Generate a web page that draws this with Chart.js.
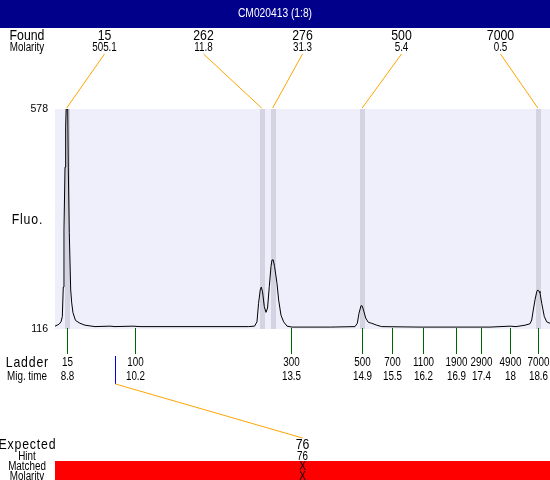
<!DOCTYPE html>
<html><head><meta charset="utf-8">
<script src="https://cdn.jsdelivr.net/npm/chart.js@4.4.1/dist/chart.umd.min.js"></script>
<style>html,body{margin:0;padding:0;background:#fff;overflow:hidden}canvas{display:block}</style>
</head><body>
<canvas id="c" width="550" height="480"></canvas>
<script>
const titleText = "CM020413 (1:8)";
const traceTimes = [8.557, 8.640, 8.682, 8.709, 8.729, 8.744, 8.765, 8.779, 8.790, 8.821, 8.833, 8.854, 8.883, 8.904, 8.931, 8.983, 9.076, 9.180, 9.388, 9.700, 9.804, 10.178, 10.323, 11.570, 12.573, 12.704, 12.754, 12.787, 12.822, 12.843, 12.870, 12.906, 12.941, 12.974, 13.010, 13.045, 13.066, 13.093, 13.120, 13.170, 13.204, 13.253, 13.308, 13.379, 13.482, 14.278, 14.791, 14.839, 14.874, 14.916, 14.943, 14.978, 15.013, 15.068, 15.138, 15.242, 15.346, 16.142, 16.973, 17.597, 18.013, 18.137, 18.324, 18.428, 18.463, 18.496, 18.531, 18.567, 18.588, 18.615, 18.635, 18.671, 18.725, 18.775, 18.843];
const traceFluo = [122, 126, 131, 142, 204, 324, 456, 540, 578, 578, 456, 318, 198, 171, 150, 134, 128, 124, 121, 122, 121, 122, 121, 121, 121, 122, 131, 170, 198, 204, 194, 163, 151, 160, 205, 247, 261, 261, 247, 212, 177, 145, 131, 122, 120, 120, 121, 128, 149, 165, 164, 152, 139, 130, 128, 124, 121, 120, 120, 120, 122, 121, 124, 127, 135, 156, 177, 194, 198, 195, 192, 170, 142, 131, 128];
const yTickValues = [116, 578];
const foundSizes = ["15", "262", "276", "500", "7000"];
const foundMolarity = ["505.1", "11.8", "31.3", "5.4", "0.5"];
const foundTimes = [8.80, 12.85, 13.08, 14.94, 18.59];
const ladderSizes = ["15", "100", "300", "500", "700", "1100", "1900", "2900", "4900", "7000"];
const ladderTimes = [8.80, 10.22, 13.47, 14.94, 15.55, 16.21, 16.90, 17.40, 18.02, 18.60];
const ladderTimeLabels = ["8.8", "10.2", "13.5", "14.9", "15.5", "16.2", "16.9", "17.4", "18", "18.6"];
const expectedSizes = ["76"];
const expectedHints = ["76"];
const expectedMatched = ["X"];
const expectedMolarity = ["X"];
const expectedTimes = [9.81];
const xMin = 8.557, xMax = 18.843;
const yMin = 116, yMax = 578;

const FONT = "'Liberation Sans', Arial, sans-serif";
const CONDENSE = 0.82;

function txt(ctx, s, x, y, size, color, spacing) {
  ctx.save();
  ctx.font = size + 'px ' + FONT;
  ctx.fillStyle = color || '#000';
  ctx.textAlign = 'center';
  ctx.textBaseline = 'middle';
  if (spacing) ctx.letterSpacing = spacing + 'px';
  ctx.translate(x, y);
  ctx.scale(CONDENSE, 1);
  ctx.fillText(s, spacing ? spacing / 2 : 0, 0);
  ctx.restore();
}
function line(ctx, x1, y1, x2, y2, color) {
  ctx.strokeStyle = color; ctx.lineWidth = 1;
  ctx.beginPath(); ctx.moveTo(x1, y1); ctx.lineTo(x2, y2); ctx.stroke();
}

const deco = {
  id: 'deco',
  beforeDraw(chart) {
    const {ctx, chartArea: a} = chart;
    ctx.save();
    ctx.fillStyle = '#fff'; ctx.fillRect(0, 0, chart.width, chart.height);
    ctx.fillStyle = '#00008B'; ctx.fillRect(0, 0, chart.width, 28);
    ctx.fillStyle = '#EFEFFC'; ctx.fillRect(a.left, a.top, a.right - a.left, a.bottom - a.top);
    ctx.restore();
  },
  beforeDatasetsDraw(chart) {
    const {ctx, chartArea: a, scales: {x}} = chart;
    ctx.save();
    ctx.fillStyle = '#D3D3E1';
    foundTimes.forEach(t => {
      const px = Math.round(x.getPixelForValue(t));
      ctx.fillRect(px - 2, a.top, 5, a.bottom - a.top);
    });
    ctx.restore();
  },
  afterDraw(chart) {
    const {ctx, chartArea: a, scales: {x}} = chart;
    const W = a.right - a.left;
    ctx.save();
    txt(ctx, titleText, chart.width / 2, 14, 12.5, '#fff');
    txt(ctx, 'Found', 27, 36, 15);
    txt(ctx, 'Molarity', 27, 48, 12);
    txt(ctx, 'Fluo.', 27, 220, 15, '#000', 1);
    txt(ctx, 'Ladder', 27, 363, 15, '#000', 1);
    txt(ctx, 'Mig. time', 27, 377, 12);
    txt(ctx, 'Expected', 27, 445, 15, '#000', 1);
    txt(ctx, 'Hint', 27, 456.5, 12);
    foundSizes.forEach((s, i) => {
      const cx = a.left + W * (i + 0.5) / foundSizes.length;
      txt(ctx, s, cx, 36, 15);
      txt(ctx, foundMolarity[i], cx, 48, 12);
      line(ctx, cx, 54, x.getPixelForValue(foundTimes[i]), 108, '#FFA500');
    });
    ladderSizes.forEach((s, i) => {
      const px = Math.round(x.getPixelForValue(ladderTimes[i])) + 0.5;
      line(ctx, px, a.bottom - 1, px, 354, '#006400');
      txt(ctx, s, px, 363, 12);
      txt(ctx, ladderTimeLabels[i], px, 377, 12);
    });
    ctx.fillStyle = '#FF0000';
    ctx.fillRect(a.left, 461, W, chart.height - 461);
    txt(ctx, 'Matched', 27, 467, 12);
    txt(ctx, 'Molarity', 27, 477, 12);
    expectedSizes.forEach((s, i) => {
      const cx = a.left + W * (i + 0.5) / expectedSizes.length;
      const px = Math.round(x.getPixelForValue(expectedTimes[i])) + 0.5;
      line(ctx, px, 356, px, 384, '#0000E0');
      line(ctx, px, 384, cx, 438, '#FFA500');
      txt(ctx, s, cx, 445, 15);
      txt(ctx, expectedHints[i], cx, 456.5, 12);
      txt(ctx, expectedMatched[i], cx, 467, 12);
      txt(ctx, expectedMolarity[i], cx, 477, 12);
    });
    ctx.restore();
  }
};

new Chart(document.getElementById('c'), {
  type: 'line',
  data: {
    datasets: [{
      data: traceTimes.map((t, i) => ({x: t, y: traceFluo[i]})),
      borderColor: '#000', borderWidth: 1, pointRadius: 0, tension: 0, fill: false
    }]
  },
  options: {
    responsive: false, animation: false, devicePixelRatio: 1, events: [],
    layout: {padding: {top: 109, right: 0, bottom: 151, left: 0}},
    plugins: {legend: {display: false}, tooltip: {enabled: false}, title: {display: false}},
    scales: {
      x: {type: 'linear', min: xMin, max: xMax, display: false},
      y: {
        type: 'linear', min: yMin, max: yMax,
        grid: {display: false, drawTicks: false}, border: {display: false},
        afterBuildTicks: s => { s.ticks = yTickValues.map(v => ({value: v})); },
        afterFit: s => { s.width = 55; },
        ticks: {padding: 7, color: '#000', autoSkip: false, font: {family: FONT, size: 10.5}, callback: v => String(v)}
      }
    }
  },
  plugins: [deco]
});
</script>
</body></html>
